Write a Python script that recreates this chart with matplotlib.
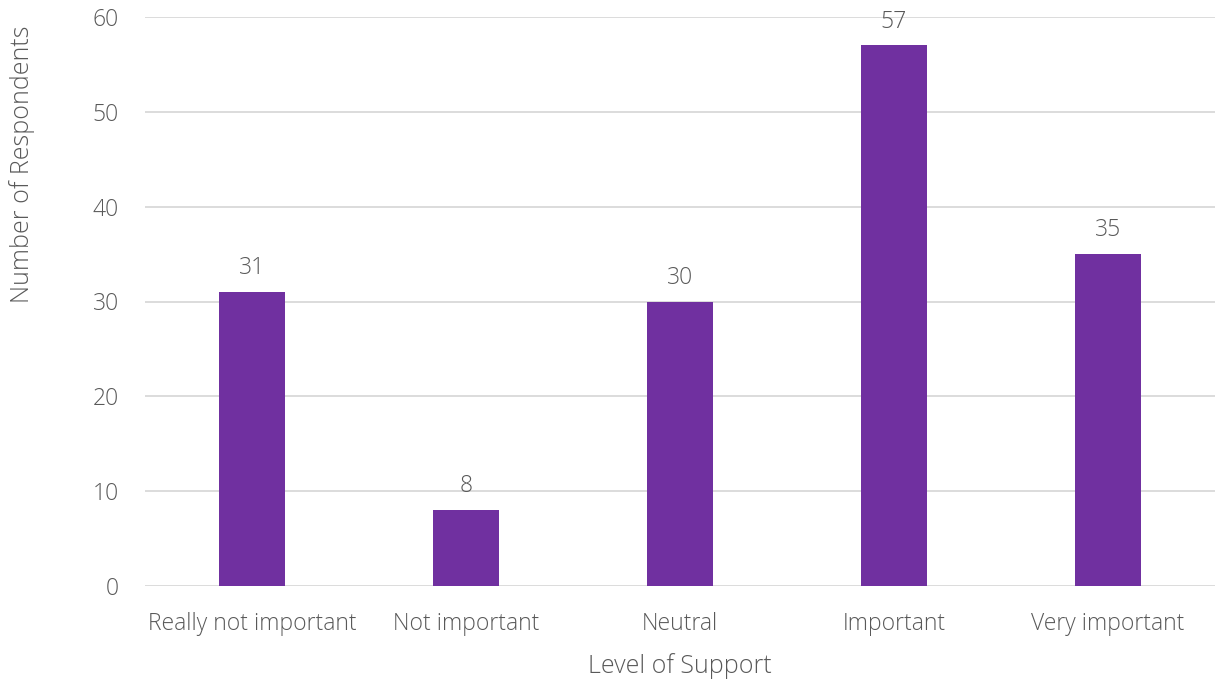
import matplotlib
matplotlib.use("Agg")
import matplotlib.pyplot as plt

categories = ["Really not important", "Not important", "Neutral", "Important", "Very important"]
values = [31, 8, 30, 57, 35]
yticks = [0, 10, 20, 30, 40, 50, 60]

plt.rcParams['font.family'] = ['Open Sans', 'DejaVu Sans']
txt = '#595959'

fig = plt.figure(figsize=(12.15, 6.8), dpi=100)
ax = fig.add_axes([145/1215, 1-586/680, 1070/1215, 569/680])
x = range(len(categories))
ax.bar(x, values, width=0.313, color='#7030A0', zorder=3)
ax.set_xlim(-0.5, len(categories) - 0.5)
ax.set_ylim(0, 60)
ax.set_yticks(yticks)
ax.set_xticks(list(x))
ax.set_xticklabels(categories)
ax.grid(axis='y', color='#D9D9D9', linewidth=1.3, zorder=0)
ax.set_axisbelow(True)
for s in ax.spines.values():
    s.set_visible(False)
ax.tick_params(axis='both', length=0, labelsize=16.5, labelcolor=txt)
ax.tick_params(axis='x', pad=18.5)
ax.tick_params(axis='y', pad=19)
for lbl in ax.get_xticklabels() + ax.get_yticklabels():
    lbl.set_fontweight('light')
for xi, v in zip(x, values):
    ax.annotate(str(v), (xi, v), xytext=(0, 8.5), textcoords='offset points',
                ha='center', va='bottom', fontsize=16.5, color=txt, fontweight='light')
ax.set_xlabel('Level of Support', fontsize=18, color=txt, fontweight='light')
ax.xaxis.set_label_coords(0.5, -0.118)
fig.text(22/1215, 1-164/680, 'Number of Respondents', rotation=90, ha='center', va='center',
         fontsize=18, color=txt, fontweight='light')
fig.savefig('out.png', dpi=100)
